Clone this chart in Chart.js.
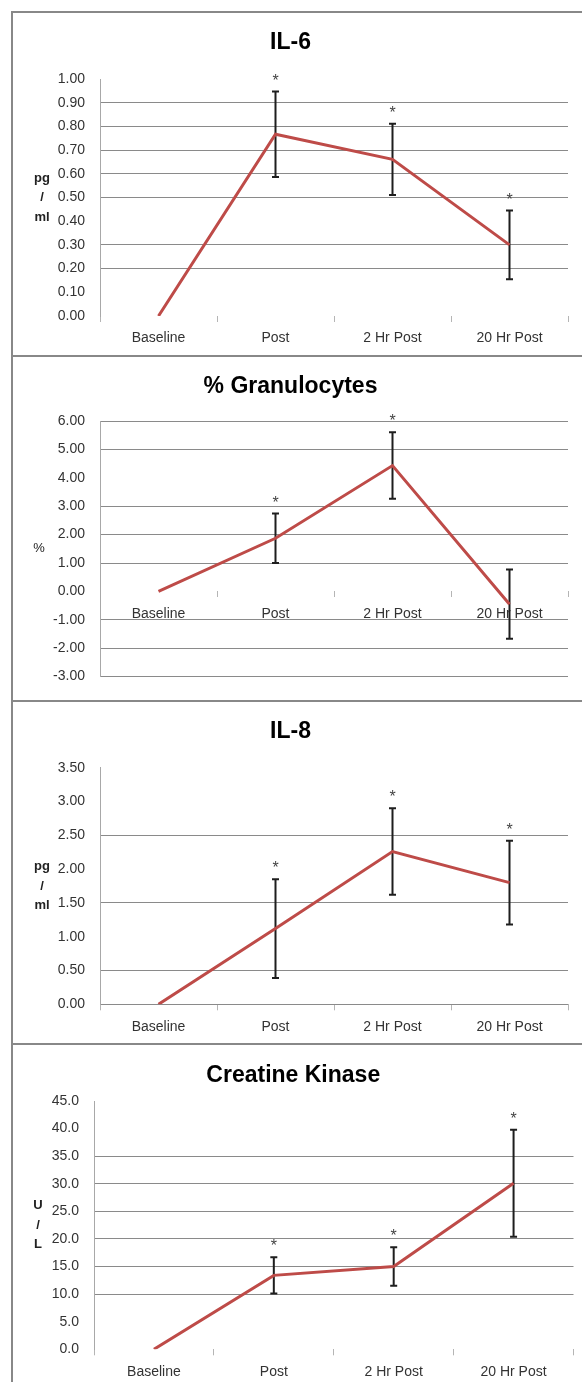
<!DOCTYPE html>
<html>
<head>
<meta charset="utf-8">
<title>Inflammation markers</title>
<script src="https://cdn.jsdelivr.net/npm/chart.js@4.4.1/dist/chart.umd.min.js"></script>
<style>
  body { margin: 0; background: #fff; width: 582px; height: 1382px; overflow: hidden; position: relative; }
  .panel { position: absolute; left: 11px; width: 600px; border-left: 2px solid #888; border-top: 2px solid #888; }
  .panel canvas { position: absolute; left: 0; top: 0; }
</style>
</head>
<body>
<div class="panel" style="top:11px;height:342px"><canvas id="il6" width="569" height="342"></canvas></div>
<div class="panel" style="top:355px;height:343px"><canvas id="gran" width="569" height="343"></canvas></div>
<div class="panel" style="top:700px;height:341px"><canvas id="il8" width="569" height="341"></canvas></div>
<div class="panel" style="top:1043px;height:344px"><canvas id="ck" width="569" height="344"></canvas></div>
<script>
// shared x categories
var categories = ['Baseline', 'Post', '2 Hr Post', '20 Hr Post'];

// IL-6 (pg/ml)
var il6Mean = [0, 0.767, 0.661, 0.30];
var il6Err = [0, 0.18, 0.15, 0.145];
var il6Sig = [false, true, true, true];
var il6Ticks = [0, 0.1, 0.2, 0.3, 0.4, 0.5, 0.6, 0.7, 0.8, 0.9, 1.0];

// % Granulocytes
var granMean = [0, 1.87, 4.43, -0.45];
var granErr = [0, 0.87, 1.17, 1.22];
var granSig = [false, true, true, false];
var granTicks = [-3, -2, -1, 0, 1, 2, 3, 4, 5, 6];

// IL-8 (pg/ml)
var il8Mean = [0, 1.12, 2.26, 1.80];
var il8Err = [0, 0.73, 0.64, 0.62];
var il8Sig = [false, true, true, true];
var il8Ticks = [0, 0.5, 1.0, 1.5, 2.0, 2.5, 3.0, 3.5];

// Creatine Kinase (U/L)
var ckMean = [0, 13.4, 15.0, 30.1];
var ckErr = [0, 3.3, 3.5, 9.7];
var ckSig = [false, true, true, true];
var ckTicks = [0, 5, 10, 15, 20, 25, 30, 35, 40, 45];

Chart.defaults.font.family = '"Liberation Sans", Arial, sans-serif';
Chart.defaults.color = '#333';

// draws the error bars + asterisks under the line
var errorBars = {
  id: 'errorBars',
  beforeDatasetsDraw: function(chart) {
    var ds = chart.data.datasets[0];
    var x = chart.scales.x, y = chart.scales.y, ctx = chart.ctx;
    ds.errors.forEach(function(e, i) {
      if (!e) return;
      var px = x.getPixelForValue(i);
      var hi = y.getPixelForValue(ds.data[i] + e);
      var lo = y.getPixelForValue(ds.data[i] - e);
      ctx.save();
      ctx.strokeStyle = '#1e1e1e';
      ctx.lineWidth = 2;
      ctx.beginPath();
      ctx.moveTo(px, hi); ctx.lineTo(px, lo);
      ctx.moveTo(px - 3.5, hi); ctx.lineTo(px + 3.5, hi);
      ctx.moveTo(px - 3.5, lo); ctx.lineTo(px + 3.5, lo);
      ctx.stroke();
      if (ds.stars[i]) {
        ctx.fillStyle = '#444';
        ctx.font = '16px "Liberation Sans"';
        ctx.textAlign = 'center';
        ctx.textBaseline = 'alphabetic';
        ctx.fillText('*', px, hi - 6);
      }
      ctx.restore();
    });
  }
};

// stacked unit label left of the ticks (pg / ml)
var unitLabel = {
  id: 'unitLabel',
  afterDraw: function(chart) {
    var o = chart.options.plugins.unitLabel;
    var a = chart.chartArea, ctx = chart.ctx;
    var mid = (a.top + a.bottom) / 2;
    var n = o.lines.length;
    ctx.save();
    ctx.fillStyle = '#222';
    ctx.font = (o.bold ? 'bold ' : '') + '13px "Liberation Sans"';
    ctx.textAlign = 'center';
    ctx.textBaseline = 'middle';
    o.lines.forEach(function(t, i) {
      ctx.fillText(t, o.x, mid + (i - (n - 1) / 2) * 19.5);
    });
    ctx.restore();
  }
};

var panels = [
  { id: 'il6', title: 'IL-6', unit: ['pg', '/', 'ml'], bold: true, unitX: 29,
    mean: il6Mean, err: il6Err, sig: il6Sig, ticks: il6Ticks, dec: 2,
    gridAt: [0.2, 0.3, 0.5, 0.6, 0.7, 0.8, 0.9],
    titleY: 30, top: 66, bottom: 303, left: 87, right: 14, atZero: false },
  { id: 'gran', title: '% Granulocytes', unit: ['%'], bold: false, unitX: 26,
    mean: granMean, err: granErr, sig: granSig, ticks: granTicks, dec: 2,
    gridAt: [6, 5, 3, 2, 1, -1, -2, -3],
    titleY: 30, top: 64, bottom: 325.3, left: 87, right: 14, atZero: true },
  { id: 'il8', title: 'IL-8', unit: ['pg', '/', 'ml'], bold: true, unitX: 29,
    mean: il8Mean, err: il8Err, sig: il8Sig, ticks: il8Ticks, dec: 2,
    gridAt: [2.5, 1.5, 0.5, 0],
    titleY: 29.7, top: 65.7, bottom: 302.3, left: 87, right: 14, atZero: false },
  { id: 'ck', title: 'Creatine Kinase', unit: ['U', '/', 'L'], bold: true, unitX: 25,
    mean: ckMean, err: ckErr, sig: ckSig, ticks: ckTicks, dec: 1,
    gridAt: [35, 30, 25, 20, 15, 10],
    titleY: 31, top: 56, bottom: 304.3, left: 81, right: 8.5, atZero: false }
];

panels.forEach(function(p) {
  var canvas = document.getElementById(p.id);
  var h = canvas.height;
  var titleSize = 23, lh = titleSize * 1.2;
  var xAxisH = p.atZero ? 0 : h - p.bottom;

  new Chart(canvas.getContext('2d'), {
    type: 'line',
    data: {
      labels: categories,
      datasets: [{
        data: p.mean,
        errors: p.err,
        stars: p.sig,
        borderColor: '#BE4B48',
        borderWidth: 3,
        pointRadius: 0,
        fill: false,
        tension: 0
      }]
    },
    options: {
      responsive: false,
      animation: false,
      layout: { padding: { top: 0, left: 0, right: p.right, bottom: p.atZero ? h - p.bottom : 0 } },
      plugins: {
        legend: { display: false },
        tooltip: { enabled: false },
        title: {
          display: true,
          text: p.title,
          color: '#000',
          font: { size: titleSize, weight: 'bold' },
          padding: { top: p.titleY - lh / 2, bottom: p.top - p.titleY - lh / 2 }
        },
        unitLabel: { lines: p.unit, bold: p.bold, x: p.unitX }
      },
      scales: {
        x: {
          type: 'category',
          offset: true,
          position: p.atZero ? { y: 0 } : 'bottom',
          border: { display: false },
          grid: { drawOnChartArea: false, drawTicks: true, tickLength: 6, offset: true, color: '#b5b5b5' },
          ticks: { padding: 8, color: '#333', font: { size: 14 } },
          afterFit: function(s) { if (!p.atZero) s.height = xAxisH; }
        },
        y: {
          min: p.ticks[0],
          max: p.ticks[p.ticks.length - 1],
          afterBuildTicks: function(s) {
            s.ticks = p.ticks.map(function(v) { return { value: v }; });
          },
          border: { display: true, color: '#a8a8a8' },
          grid: {
            drawTicks: false,
            color: function(c) {
              if (!c.tick) return 'rgba(0,0,0,0)';
              var on = p.gridAt.some(function(v) { return Math.abs(v - c.tick.value) < 1e-6; });
              return on ? '#8a8a8a' : 'rgba(0,0,0,0)';
            }
          },
          ticks: {
            padding: 15,
            color: '#333',
            font: { size: 14 },
            callback: function(v) { return Number(v).toFixed(p.dec); }
          },
          afterFit: function(s) { s.width = p.left; }
        }
      }
    },
    plugins: [errorBars, unitLabel]
  });
});
</script>
</body>
</html>
